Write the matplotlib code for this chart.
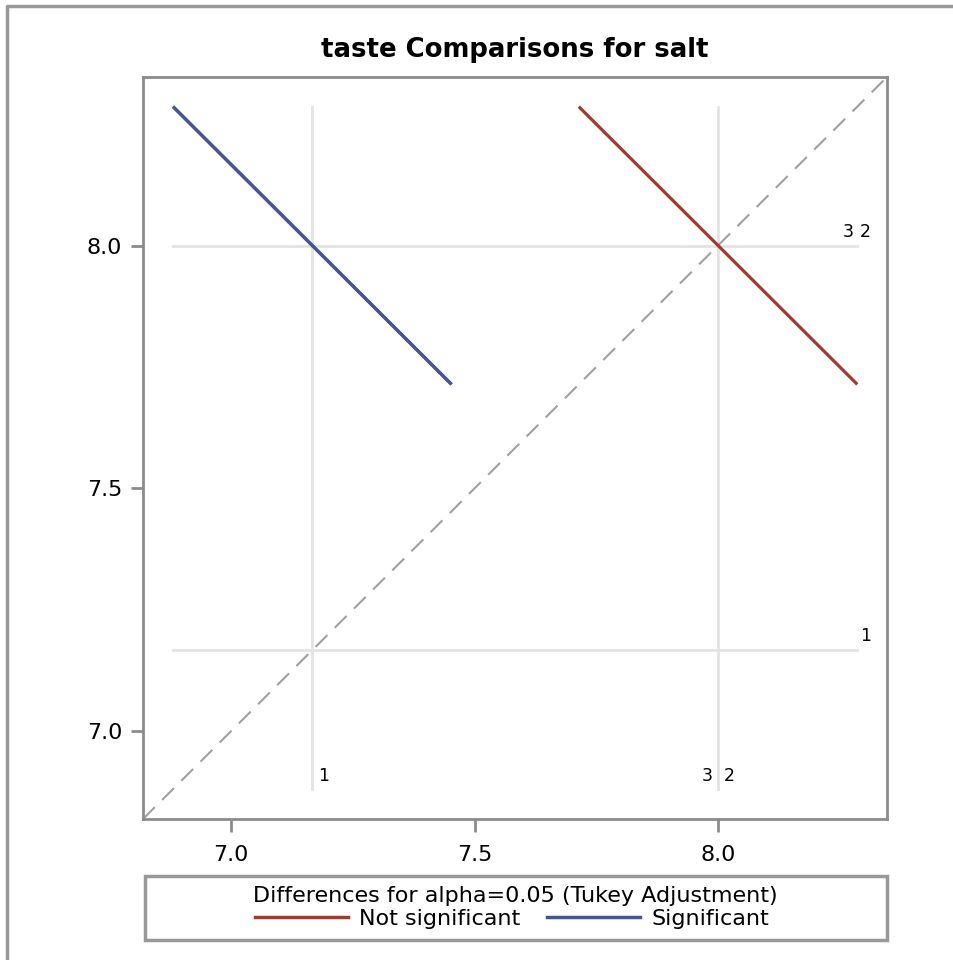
import matplotlib
matplotlib.use("Agg")
import matplotlib.pyplot as plt
from matplotlib.lines import Line2D
from matplotlib.patches import Rectangle
import numpy as np

# group means of taste for each salt level
groups = ["1", "2", "3"]
means = [7.1667, 8.0, 8.0]

# pairwise comparisons: (x group, y group, half width of Tukey interval, significant?)
pair_x = [0, 0, 1]
pair_y = [1, 2, 2]
ci_half = [0.572, 0.572, 0.572]
significant = [True, True, False]

# where the group labels sit next to the reference lines
bottom_ha = ["left", "left", "right"]
right_ha = ["left", "left", "right"]

title = "taste Comparisons for salt"
legend_title = "Differences for alpha=0.05 (Tukey Adjustment)"
legend_labels = ["Not significant", "Significant"]
ticks = [7.0, 7.5, 8.0]

RED = "#A23A2E"
BLUE = "#445694"
GRID = "#E3E3E3"
FRAME = "#8C8C8C"

fig = plt.figure(figsize=(9.54, 9.6), dpi=100)
ax = fig.add_axes([143 / 954, 1 - 819 / 960, 744 / 954, 742 / 960])

lo_lim, hi_lim = 6.819, 8.347
ax.set_xlim(lo_lim, hi_lim)
ax.set_ylim(lo_lim, hi_lim)

# extent of the reference lines = extent of the segments
ends = []
for i, j, h in zip(pair_x, pair_y, ci_half):
    ends += [means[i] - h / 2, means[i] + h / 2, means[j] - h / 2, means[j] + h / 2]
ref_lo, ref_hi = min(ends), max(ends)

for m in sorted(set(means)):
    ax.plot([m, m], [ref_lo, ref_hi], color=GRID, lw=2, zorder=1)
    ax.plot([ref_lo, ref_hi], [m, m], color=GRID, lw=2, zorder=1)

# diagonal
ax.plot([lo_lim, hi_lim], [lo_lim, hi_lim], color="#A0A0A0", lw=1.5,
        dashes=(8, 5), zorder=2)

# diffogram segments
for i, j, h, sig in zip(pair_x, pair_y, ci_half, significant):
    cx, cy = means[i], means[j]
    d = h / 2
    ax.plot([cx - d, cx + d], [cy + d, cy - d], color=BLUE if sig else RED,
            lw=2.3, solid_capstyle="butt", zorder=3)

# group labels at the ends of the reference lines
for g, m, ha in zip(groups, means, bottom_ha):
    off = 0.012 if ha == "left" else -0.012
    ax.text(m + off, ref_lo + 0.008, g, ha=ha, va="bottom", fontsize=12.5)
for g, m, ha in zip(groups, means, right_ha):
    off = 0.006 if ha == "left" else -0.008
    ax.text(ref_hi + off, m + 0.01, g, ha=ha, va="bottom", fontsize=12.5)

ax.set_xticks(ticks)
ax.set_yticks(ticks)
ax.set_xticklabels([f"{t:.1f}" for t in ticks])
ax.set_yticklabels([f"{t:.1f}" for t in ticks])
ax.tick_params(axis="both", length=9, width=2, color=FRAME, labelsize=16)
ax.tick_params(axis="x", pad=10)
ax.tick_params(axis="y", pad=6)
for sp in ax.spines.values():
    sp.set_color(FRAME)
    sp.set_linewidth(2)

fig.text(515 / 954, 1 - 50 / 960, title, ha="center", va="center",
         fontsize=18.7, fontweight="bold")

# legend box under the plot
fig.patches.append(Rectangle((145 / 954, 1 - 940 / 960), 742 / 954, 64 / 960,
                             transform=fig.transFigure, fill=False,
                             edgecolor="#999999", lw=2.5))
fig.text(515 / 954, 1 - 896 / 960, legend_title, ha="center", va="center",
         fontsize=16)
handles = [Line2D([], [], color=RED, lw=2.5), Line2D([], [], color=BLUE, lw=2.5)]
fig.legend(handles, legend_labels, ncol=2, loc="center",
           bbox_to_anchor=(512 / 954, 1 - 919 / 960), frameon=False,
           fontsize=16, handlelength=4.2, handletextpad=0.5, columnspacing=1.2,
           borderpad=0, borderaxespad=0)

# outer frame (only left and top edges show)
fig.lines.append(Line2D([7 / 954, 7 / 954, 1], [0, 1 - 6 / 960, 1 - 6 / 960],
                        transform=fig.transFigure, color="#999999", lw=2.5))

fig.savefig("out.png", dpi=100)
